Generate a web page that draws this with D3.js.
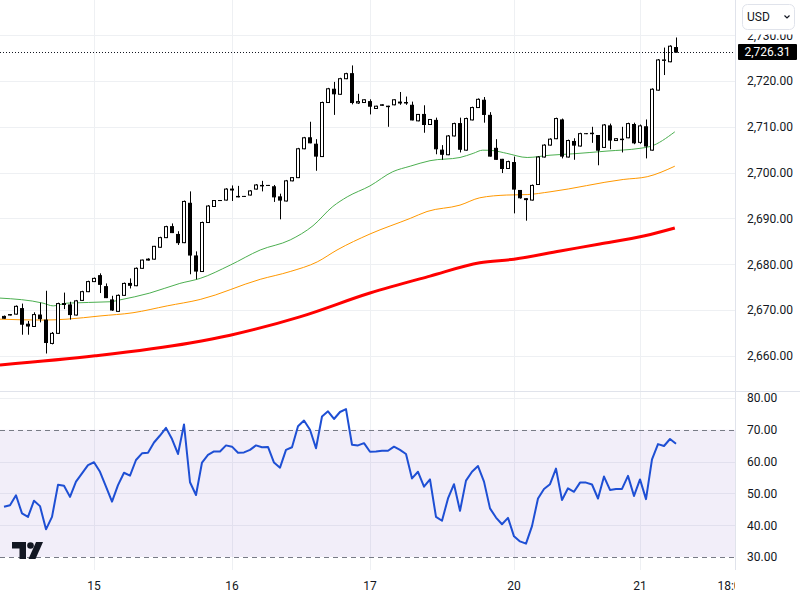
<!DOCTYPE html>
<html><head><meta charset="utf-8">
<script src="https://cdn.jsdelivr.net/npm/d3@7"></script>
<style>
body{margin:0;background:#fff}
svg{display:block}
text{font-family:Roboto,"Liberation Sans",Arial,sans-serif}
</style>
</head><body>
<svg id="c" width="800" height="600"></svg>
<script>
// ---- data (hourly candles, index 1..113) ----
const opens=[2668.6,2668.9,2669.1,2670.3,2666.9,2666.4,2668.9,2667.8,2662.7,2664.9,
2671.4,2671.1,2668.9,2672.1,2674.0,2676.2,2677.5,2675.1,2672.2,2669.7,
2673.2,2675.8,2675.3,2679.1,2680.9,2681.1,2683.7,2685.8,2688.2,2686.5,
2684.7,2693.3,2681.8,2678.4,2689.1,2692.6,2693.9,2694.0,2696.4,2694.8,
2694.8,2695.1,2696.4,2697.1,2697.2,2696.9,2694.7,2693.8,2698.2,2698.9,
2705.2,2707.6,2706.2,2703.5,2715.3,2718.2,2717.1,2720.5,2721.6,2715.2,
2715.3,2715.5,2714.0,2714.8,2714.5,2714.8,2715.2,2715.3,2714.7,2711.3,
2712.7,2710.5,2711.4,2704.9,2703.9,2708.0,2710.7,2704.9,2711.5,2714.2,
2715.8,2712.5,2705.3,2702.9,2700.9,2702.2,2696.1,2694.3,2694.0,2697.4,
2703.4,2706.0,2707.4,2711.5,2703.4,2706.8,2705.8,2708.5,2708.5,2708.1,
2705.5,2710.2,2707.0,2707.2,2707.6,2710.5,2706.6,2710.0,2704.9,2718.0,
2724.5,2724.2,2727.3];
const highs=[2668.8,2669.1,2671.0,2671.4,2667.6,2669.5,2671.6,2674.2,2665.2,2671.6,
2673.8,2671.8,2672.2,2674.2,2676.4,2677.1,2678.0,2675.8,2673.1,2673.4,
2676.0,2676.9,2679.3,2681.0,2681.3,2684.0,2686.0,2688.4,2688.9,2687.2,
2693.9,2695.9,2682.8,2689.3,2692.9,2694.0,2694.0,2696.6,2697.2,2697.1,
2694.9,2696.2,2697.5,2698.2,2697.3,2697.3,2695.4,2698.4,2699.0,2705.4,
2707.8,2711.1,2707.3,2715.5,2718.5,2719.8,2720.7,2721.8,2723.4,2717.2,
2716.0,2716.0,2714.6,2714.9,2714.6,2716.0,2717.6,2716.6,2715.5,2712.8,
2714.7,2711.7,2712.0,2706.0,2708.2,2710.9,2712.0,2712.0,2714.4,2716.2,
2716.5,2713.2,2707.3,2703.0,2702.6,2703.5,2696.2,2694.4,2697.4,2703.6,
2706.2,2707.5,2712.0,2711.8,2707.2,2707.5,2708.7,2708.6,2710.0,2708.2,
2710.6,2710.7,2707.5,2710.0,2710.9,2710.9,2710.5,2711.6,2718.4,2724.8,
2727.3,2727.8,2729.5];
const lows=[2668.1,2668.8,2669.0,2664.6,2664.6,2666.3,2667.3,2660.5,2662.5,2664.8,
2670.2,2667.9,2668.8,2672.0,2673.9,2676.1,2673.7,2672.6,2669.8,2669.6,
2673.1,2674.7,2675.2,2679.0,2680.8,2681.0,2683.6,2685.7,2686.8,2684.2,
2684.6,2677.8,2676.7,2678.3,2689.0,2692.5,2693.8,2693.9,2693.8,2694.6,
2694.7,2695.0,2696.3,2695.9,2697.1,2693.6,2689.8,2693.7,2698.1,2698.8,
2705.1,2706.4,2700.4,2703.4,2715.2,2712.6,2717.0,2720.4,2714.9,2715.0,
2715.2,2712.7,2713.9,2714.6,2710.0,2714.7,2714.8,2714.8,2711.4,2711.2,
2708.7,2710.4,2704.0,2702.8,2703.8,2707.9,2704.4,2704.8,2711.4,2714.1,
2710.9,2703.5,2702.8,2699.9,2700.8,2691.1,2694.3,2689.5,2693.9,2697.3,
2703.3,2705.9,2707.3,2703.1,2703.3,2702.8,2705.7,2708.4,2706.5,2701.6,
2705.4,2705.1,2706.9,2704.4,2707.5,2706.2,2706.3,2703.1,2704.8,2717.9,
2721.3,2724.1,2726.2];
const closes=[2668.2,2669.0,2670.8,2666.9,2666.5,2669.0,2668.1,2662.9,2664.9,2671.4,
2671.2,2669.0,2672.0,2674.0,2676.2,2676.9,2675.6,2672.7,2670.0,2673.2,
2675.8,2675.4,2679.1,2680.9,2681.1,2683.9,2685.8,2688.2,2686.9,2684.7,
2693.7,2682.0,2678.5,2689.1,2692.7,2693.9,2693.9,2696.4,2696.2,2694.7,
2694.8,2696.0,2697.3,2697.2,2697.2,2694.7,2694.0,2698.2,2698.9,2705.2,
2707.6,2706.5,2703.6,2715.3,2718.3,2717.2,2720.5,2721.6,2715.3,2715.5,
2715.9,2714.5,2714.5,2714.7,2714.4,2715.9,2715.4,2715.2,2711.5,2712.7,
2710.5,2711.6,2705.2,2704.0,2708.0,2710.7,2705.1,2711.8,2714.2,2716.0,
2712.7,2703.6,2702.9,2700.9,2702.4,2696.4,2694.5,2694.1,2697.2,2703.4,
2706.0,2707.3,2711.8,2703.6,2707.0,2706.0,2708.5,2708.5,2708.6,2704.9,
2710.4,2707.1,2707.4,2707.3,2710.7,2706.5,2710.2,2705.8,2718.2,2724.6,
2724.6,2727.6,2726.31];
const lastPrice=2726.31;

// moving averages, read at sample candle positions
const maGreenAt=[0.33,7.5,9.2,11.5,18.7,20.3,25.3,30.3,33.7,38.7,43.7,48.7,52.5,55.8,58.2,62,65.8,68.7,72,77,79.2,80.8,82.5,84.8,88.2,92,95.8,101.5,107,108.7,112.8];
const maGreen=[2672.6,2671.5,2670.9,2671.5,2671.8,2672.2,2673.7,2675.8,2676.9,2679.8,2683.1,2685.3,2688.4,2692.6,2694.7,2697.1,2700.2,2701.4,2702.6,2703.3,2704.2,2704.9,2704.8,2704.2,2703.3,2703.8,2704.1,2704.7,2705.3,2705.7,2708.9];
const maOrangeAt=[0.33,7.5,11.5,17,22.5,28.2,33.7,43.7,48.7,53.2,56.5,62,68.7,71.5,77,80.3,84.8,88.2,92,104.2,108.2,112.8];
const maOrange=[2668.0,2667.8,2668.0,2668.7,2669.4,2670.9,2672.3,2676.7,2678.4,2680.5,2683.1,2686.6,2690.0,2691.5,2692.9,2694.5,2695.1,2695.2,2695.8,2698.5,2699.1,2701.4];
const maRedAt=[0.33,16.2,32,38.7,50.3,62,72,80.3,86,93.7,100.3,107.8,112.8];
const maRed=[2658.0,2660.0,2662.8,2664.5,2668.5,2673.7,2677.4,2680.3,2681.1,2682.9,2684.4,2686.2,2687.9];

const rsi=[45.8,46.3,49.4,43.7,42.6,47.7,46.0,38.7,42.6,52.7,
52.4,48.9,53.7,56.3,58.9,59.8,56.8,52.1,47.4,52.6,
56.5,55.6,60.5,62.6,62.8,66.0,68.2,70.6,67.1,62.4,
71.7,53.5,49.5,59.7,62.1,63.2,63.2,65.1,64.7,62.8,
62.9,63.7,65.1,64.5,64.6,59.7,58.1,63.7,64.5,71.1,
72.9,70.0,64.2,74.2,75.8,73.4,75.6,76.5,65.3,65.1,
65.8,63.1,63.2,63.4,63.4,64.7,63.7,62.4,54.7,56.8,
52.1,54.4,42.6,41.4,48.4,52.9,44.5,54.0,56.8,58.6,
53.7,45.3,42.4,40.3,42.3,36.5,34.9,34.2,39.7,48.4,
51.4,52.9,57.8,47.9,51.6,50.5,53.4,53.4,52.8,48.4,
55.3,51.1,51.4,51.4,55.5,49.2,54.4,48.2,60.7,65.5,
64.9,67.1,65.6];

const timeTickAt=[16,39,62,86,107,122.4];
const timeTickLabels=["15","16","17","20","21","18:00"];
const priceTicks=[2660,2670,2680,2690,2700,2710,2720,2730];
const rsiTicks=[30,40,50,60,70,80];

// ---- drawing ----
const svg=d3.select("#c");
const plotR=735, priceBottom=391, rsiBottom=570;
const x=d3.scaleLinear().domain([1,113]).range([4,676]);
const y=d3.scaleLinear().domain([2660,2720]).range([355.8,81]);
const yr=d3.scaleLinear().domain([30,80]).range([557,398]);
const fmt=d3.format(",.2f");
const gridC="#eef0f3", borderC="#e0e3eb", textC="#131722";

const defs=svg.append("defs");
defs.append("clipPath").attr("id","cp").append("rect").attr("x",0).attr("y",0).attr("width",plotR).attr("height",priceBottom);
defs.append("clipPath").attr("id","cr").append("rect").attr("x",0).attr("y",priceBottom).attr("width",plotR).attr("height",rsiBottom-priceBottom);
defs.append("clipPath").attr("id","ct").append("rect").attr("x",0).attr("y",rsiBottom).attr("width",plotR).attr("height",600-rsiBottom);

// grids
const g=svg.append("g");
g.selectAll(".pg").data(priceTicks).join("line")
 .attr("x1",0).attr("x2",plotR).attr("y1",d=>Math.round(y(d))+0.5).attr("y2",d=>Math.round(y(d))+0.5)
 .attr("stroke",gridC);
g.selectAll(".rg").data(rsiTicks.filter(d=>d!==70&&d!==30)).join("line")
 .attr("x1",0).attr("x2",plotR).attr("y1",d=>Math.round(yr(d))+0.5).attr("y2",d=>Math.round(yr(d))+0.5)
 .attr("stroke",gridC);
g.selectAll(".vg").data(timeTickAt.slice(0,5)).join("line")
 .attr("x1",d=>Math.round(x(d))+0.5).attr("x2",d=>Math.round(x(d))+0.5).attr("y1",0).attr("y2",rsiBottom)
 .attr("stroke",gridC);

// RSI band
svg.append("rect").attr("x",0).attr("width",plotR).attr("y",yr(70)).attr("height",yr(30)-yr(70))
 .attr("fill","rgba(126,87,194,0.1)");
svg.selectAll(".rb").data([70,30]).join("line")
 .attr("x1",0).attr("x2",plotR).attr("y1",d=>Math.round(yr(d))+0.5).attr("y2",d=>Math.round(yr(d))+0.5)
 .attr("stroke","#787b86").attr("stroke-dasharray","5,4");

// separators
svg.append("line").attr("x1",0).attr("x2",800).attr("y1",priceBottom+0.5).attr("y2",priceBottom+0.5).attr("stroke",borderC);
svg.append("line").attr("x1",plotR+0.5).attr("x2",plotR+0.5).attr("y1",0).attr("y2",rsiBottom).attr("stroke",borderC);

// MAs
const pane=svg.append("g").attr("clip-path","url(#cp)");
function maLine(at,vals,color,w){
  const line=d3.line().x(d=>x(d[0])).y(d=>y(d[1])).curve(d3.curveMonotoneX);
  pane.append("path").attr("d",line(at.map((a,k)=>[a,vals[k]])))
   .attr("fill","none").attr("stroke",color).attr("stroke-width",w);
}
maLine(maRedAt,maRed,"#ff0000",3);
maLine(maOrangeAt,maOrange,"#ff9800",1);
maLine(maGreenAt,maGreen,"#4caf50",1);

// candles
const idx=d3.range(1,114);
const cg=pane.append("g");
idx.forEach(i=>{
  const k=i-1, o=opens[k], c=closes[k], h=highs[k], l=lows[k];
  const a=Math.round(x(i));
  const up=c>=o;
  cg.append("line").attr("x1",a+0.5).attr("x2",a+0.5).attr("y1",y(h)).attr("y2",y(l)).attr("stroke","#000");
  const top=y(Math.max(o,c)), bot=y(Math.min(o,c));
  cg.append("rect").attr("x",a-1.5).attr("width",3).attr("y",top).attr("height",Math.max(bot-top,0.01))
   .attr("fill",up?"#fff":"#000").attr("stroke","#000").attr("stroke-width",1);
});

// last price line
svg.append("line").attr("x1",0).attr("x2",plotR).attr("y1",Math.round(y(lastPrice))+0.5).attr("y2",Math.round(y(lastPrice))+0.5)
 .attr("stroke",textC).attr("stroke-dasharray","1,2");

// RSI line
svg.append("g").attr("clip-path","url(#cr)").append("path")
 .attr("d",d3.line().x((d,k)=>x(k+1)).y(d=>yr(d))(rsi))
 .attr("fill","none").attr("stroke","#1e4fd4").attr("stroke-width",2).attr("stroke-linejoin","round");

// axis labels
svg.selectAll(".pl").data(priceTicks).join("text")
 .attr("x",747).attr("y",d=>y(d)).attr("dy","0.36em").attr("font-size",12).attr("fill",textC).text(d=>fmt(d));
svg.selectAll(".rl").data(rsiTicks).join("text")
 .attr("x",747).attr("y",d=>yr(d)).attr("dy","0.36em").attr("font-size",12).attr("fill",textC).text(d=>fmt(d));
svg.append("g").attr("clip-path","url(#ct)").selectAll("text").data(timeTickAt).join("text")
 .attr("x",d=>x(d)).attr("y",590).attr("text-anchor","middle").attr("font-size",12).attr("fill",textC)
 .text((d,k)=>timeTickLabels[k]);

// last price label
const ly=y(lastPrice);
svg.append("rect").attr("x",738).attr("y",ly-8).attr("width",59).attr("height",16).attr("rx",1).attr("fill","#000");
svg.append("text").attr("x",767.5).attr("y",ly).attr("dy","0.36em").attr("text-anchor","middle")
 .attr("font-size",12).attr("fill","#fff").text(fmt(lastPrice));

// currency button (covers top of first label)
svg.append("rect").attr("x",736).attr("y",0).attr("width",64).attr("height",34.5).attr("fill","#fff");
svg.append("rect").attr("x",742.5).attr("y",4.5).attr("width",52).attr("height",25).attr("rx",5)
 .attr("fill","#fff").attr("stroke",borderC);
svg.append("text").attr("x",747).attr("y",21).attr("font-size",12).attr("fill",textC).text("USD");
svg.append("path").attr("d","M784.5,15.5 l2.5,2.5 l2.5,-2.5").attr("fill","none").attr("stroke",textC).attr("stroke-width",1.2);

// logo
const lg=svg.append("g").attr("transform","translate(12,542)").attr("fill",textC);
lg.append("path").attr("d","M0,0 H14 V17 H7.5 V6.5 H0 Z");
lg.append("circle").attr("cx",18.5).attr("cy",3.5).attr("r",3.3);
lg.append("path").attr("d","M16.5,17 L24,0 H31 L23.5,17 Z");
</script>
</body></html>
